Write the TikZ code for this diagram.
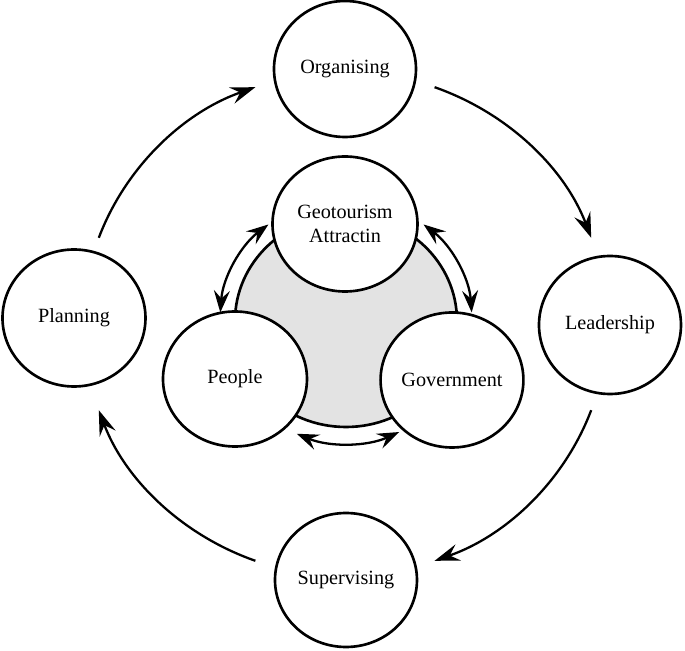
\documentclass[tikz,border=0pt]{standalone}
\usepackage{fontspec}
\setmainfont{Liberation Serif}
\usetikzlibrary{arrows.meta,shapes.geometric}

\begin{document}
\begin{tikzpicture}[
  stage/.style={draw, ellipse, line width=1.5pt, fill=white, inner sep=0pt,
    minimum width=2.84cm, minimum height=2.72cm, align=center,
    font=\fontsize{11.5}{13.5}\selectfont},
  flow/.style={line width=1.3pt, -{Stealth[length=5mm,width=3.4mm,inset=1.8mm]}},
  swap/.style={line width=1.3pt, {Stealth[length=4.4mm,width=3.2mm,inset=1.6mm]}-{Stealth[length=4.4mm,width=3.2mm,inset=1.6mm]}}]
 \useasboundingbox (-6.9,-6.54) rectangle (6.8,6.48);
 % shaded centre
 \node[draw, ellipse, line width=1.5pt, fill=black!11, minimum width=4.44cm, minimum height=4.24cm] (core) at (0.02,0.06) {};
 \node[stage, minimum width=2.9cm, minimum height=2.7cm] (geo) at (0,2.0) {Geotourism\\Attractin};
 \node[stage, minimum width=2.88cm, minimum height=2.7cm] (peo) at (-2.2,-1.1) {People};
 \node[stage, minimum width=2.8cm, minimum height=2.7cm] (gov) at (2.14,-1.12) {Government};
 % management cycle
 \node[stage] (org) at (0,5.1) {Organising};
 \node[stage, minimum width=2.86cm, minimum height=2.74cm] (plan) at (-5.42,0.12) {Planning};
 \node[stage, minimum height=2.76cm] (lead) at (5.3,-0.02) {Leadership};
 \node[stage, minimum height=2.68cm] (sup) at (0.02,-5.12) {Supervising};

 \coordinate (hub) at (0,0);
 \coordinate (p2o) at (160:5.24 and 5.04);
 \coordinate (o2l) at (70:5.24 and 5.04);
 \coordinate (l2s) at (-20:5.24 and 5.04);
 \coordinate (s2p) at (-110:5.24 and 5.04);
 \draw[flow] (p2o) arc[start angle=160, end angle=110, x radius=5.24, y radius=5.04];
 \draw[flow] (o2l) arc[start angle=70, end angle=20, x radius=5.24, y radius=5.04];
 \draw[flow] (l2s) arc[start angle=-20, end angle=-70, x radius=5.24, y radius=5.04];
 \draw[flow] (s2p) arc[start angle=-110, end angle=-160, x radius=5.24, y radius=5.04];

 \coordinate (gp) at ([shift={(176:2.52 and 2.45)}]core.center);
 \coordinate (gg) at ([shift={(52:2.52 and 2.45)}]core.center);
 \coordinate (pg) at ([shift={(-113:2.52 and 2.45)}]core.center);
 \draw[swap] (gp) arc[start angle=176, end angle=128, x radius=2.52, y radius=2.45];
 \draw[swap] (gg) arc[start angle=52, end angle=4, x radius=2.52, y radius=2.45];
 \draw[swap] (pg) arc[start angle=-113, end angle=-65, x radius=2.52, y radius=2.45];
\end{tikzpicture}
\end{document}
